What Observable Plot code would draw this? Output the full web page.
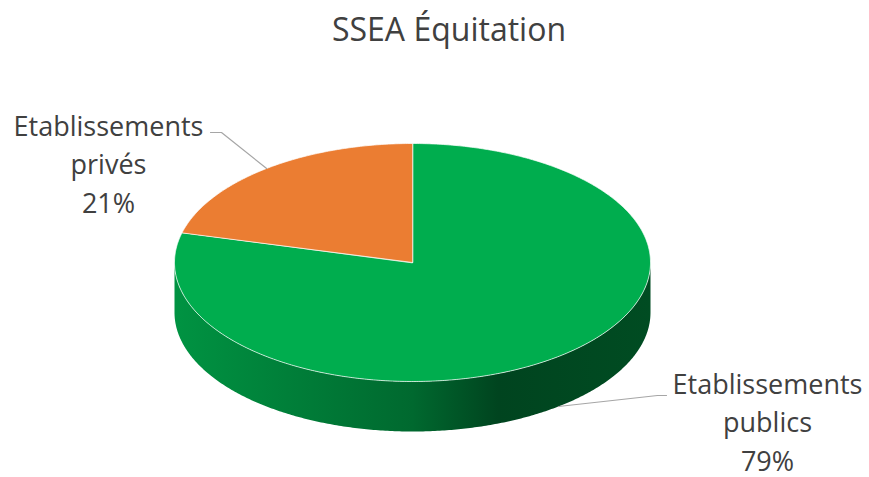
<!DOCTYPE html>
<html><head><meta charset="utf-8">
<script src="https://cdn.jsdelivr.net/npm/d3@7"></script>
<script src="https://cdn.jsdelivr.net/npm/@observablehq/plot@0.6"></script>
<style>body{margin:0;background:#fff}</style>
</head><body><div id="chart"></div>
<script>
// ---- data ----
const title = "SSEA Équitation";
const categories = ["Etablissements publics", "Etablissements privés"];
const labelLines = [["Etablissements", "publics"], ["Etablissements", "privés"]];
const values = [79, 21];
const colors = ["#00AD4E", "#EB7D32"];

// ---- layout ----
const W = 869, H = 477;
const cx = 412, cy = 262, rx = 238, ry = 119, depth = 50;
const labelAnchors = [{x: 767, y: 470}, {x: 108, y: 212}];
const elbows = [[{x: 657, y: 395}, {x: 666, y: 395}], [{x: 221, y: 132}, {x: 210, y: 132}]];

const total = d3.sum(values);
const TAU = 2 * Math.PI;
let acc = 0;
const slices = values.map((v, i) => {
  const a0 = acc / total * TAU; acc += v; const a1 = acc / total * TAU;
  return {i, a0, a1, mid: (a0 + a1) / 2, v};
});
const pt = (a, dy = 0) => ({x: cx + rx * Math.sin(a), y: cy - ry * Math.cos(a) + dy});
function arcPts(a0, a1, dy) {
  const n = Math.max(2, Math.ceil((a1 - a0) / 0.01));
  return d3.range(n + 1).map(k => pt(a0 + (a1 - a0) * k / n, dy));
}
const topPolys = slices.map(s => [{x: cx, y: cy}, ...arcPts(s.a0, s.a1, 0)]);
const sidePolys = slices.map(s => {
  const b0 = Math.max(s.a0, Math.PI / 2), b1 = Math.min(s.a1, 1.5 * Math.PI);
  if (b1 <= b0) return [];
  return [...arcPts(b0, b1, 0), ...arcPts(b0, b1, depth).reverse()];
});
// leader lines: from slice edge (top edge for back slices, bottom edge for front ones)
const leaders = slices.map(s => {
  const front = Math.cos(s.mid) < 0;
  return [pt(s.mid, front ? depth : 0), ...elbows[s.i]];
});
const fmt = d3.format(".0%");
const labels = slices.map(s => ({
  text: [...labelLines[s.i], fmt(s.v / total)].join("\n"),
  x: labelAnchors[s.i].x, y: labelAnchors[s.i].y
}));

const marks = [];
slices.forEach(s => {
  if (sidePolys[s.i].length)
    marks.push(Plot.line(sidePolys[s.i], {x: "x", y: "y", fill: `url(#side${s.i})`, stroke: "none", curve: "linear-closed"}));
});
slices.forEach(s => {
  marks.push(Plot.line(topPolys[s.i], {x: "x", y: "y", fill: colors[s.i], stroke: "#ffffff", strokeWidth: 1, strokeOpacity: 0.7, curve: "linear-closed"}));
});
leaders.forEach(l => marks.push(Plot.line(l, {x: "x", y: "y", stroke: "#a6a6a6", strokeWidth: 1.2})));
marks.push(Plot.text(labels, {x: "x", y: "y", text: "text", fontSize: 27, lineHeight: 1.42, lineAnchor: "bottom", textAnchor: "middle", fill: "#404040"}));
marks.push(Plot.text([title], {x: W / 2 + 14, y: 40, text: d => d, fontSize: 32, lineAnchor: "bottom", textAnchor: "middle", fill: "#404040"}));

const svg = Plot.plot({
  width: W, height: H, margin: 0, axis: null,
  x: {type: "identity"}, y: {type: "identity"},
  style: {fontFamily: "'Open Sans', sans-serif", background: "#fff", overflow: "visible"},
  marks
});

// side gradients
const defs = d3.select(svg).insert("defs", ":first-child");
slices.forEach(s => {
  const c = d3.color(colors[s.i]);
  const g = defs.append("linearGradient").attr("id", `side${s.i}`)
    .attr("gradientUnits", "userSpaceOnUse")
    .attr("x1", cx - rx).attr("x2", cx + rx).attr("y1", 0).attr("y2", 0);
  [[0, 0.45], [0.5, 1.4], [0.68, 2.6], [1, 2.3]].forEach(([o, k]) =>
    g.append("stop").attr("offset", o).attr("stop-color", c.darker(k).formatHex()));
});
document.getElementById("chart").appendChild(svg);
</script>
</body></html>
